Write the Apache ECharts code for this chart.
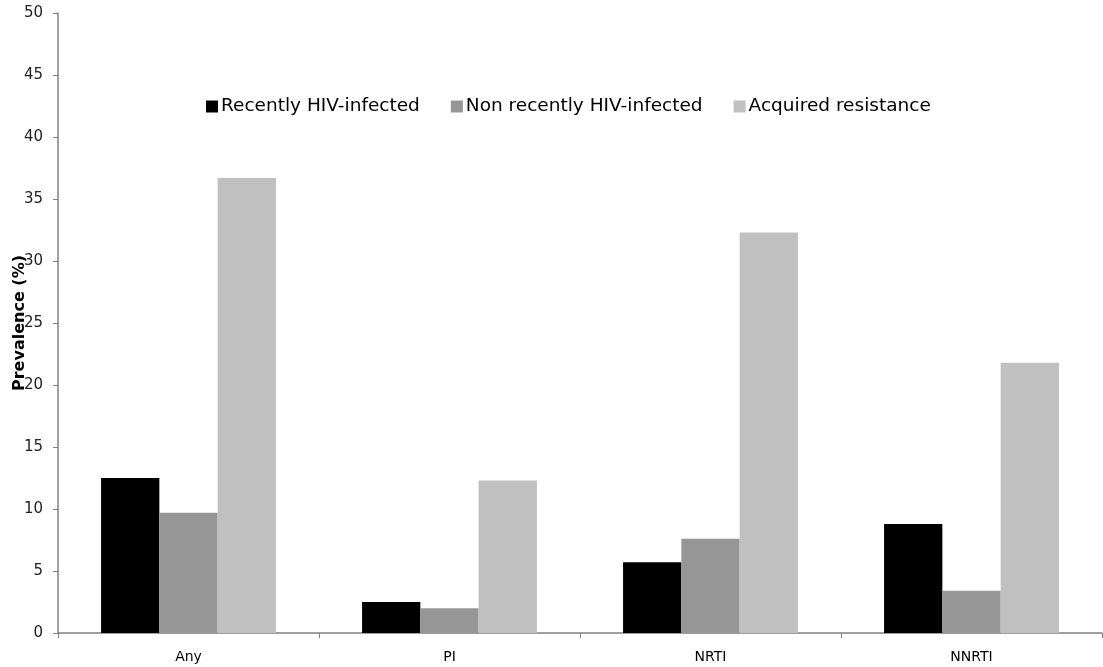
<!DOCTYPE html>
<html>
<head>
<meta charset="utf-8">
<script src="https://cdn.jsdelivr.net/npm/echarts@6/dist/echarts.min.js"></script>
<style>
  html, body { margin: 0; padding: 0; background: #ffffff; }
  #chart { width: 1103px; height: 667px; }
</style>
</head>
<body>
<div id="chart"></div>
<script>
// Drug classes on the x axis
const categories = ['Any', 'PI', 'NRTI', 'NNRTI'];

// Prevalence of resistance (%) per group
const recentlyInfected = [12.5, 2.5, 5.7, 8.8];
const nonRecentlyInfected = [9.7, 2.0, 7.6, 3.4];
const acquiredResistance = [36.7, 12.3, 32.3, 21.8];

const seriesNames = ['Recently HIV-infected', 'Non recently HIV-infected', 'Acquired resistance'];
const seriesColors = ['#000000', '#969696', '#c0c0c0'];

const chart = echarts.init(document.getElementById('chart'), null, { renderer: 'canvas' });

const font = 'DejaVu Sans, Verdana, sans-serif';

chart.setOption({
  animation: false,
  backgroundColor: '#ffffff',
  grid: {
    left: 58, right: 1, top: 13, bottom: 34,
    containLabel: false,
    outerBoundsMode: 'none'
  },
  legend: {
    data: seriesNames,
    left: 201,
    top: 92,
    itemWidth: 12,
    itemHeight: 12,
    itemGap: 31,
    icon: 'rect',
    textStyle: { fontFamily: font, fontSize: 18.5, color: '#000000', padding: [0, 0, 0, -2] }
  },
  xAxis: {
    type: 'category',
    data: categories,
    axisLine: { lineStyle: { color: '#808080', width: 1.5 } },
    axisTick: { show: true, alignWithLabel: false, length: 5, lineStyle: { color: '#808080' } },
    axisLabel: { fontFamily: font, fontSize: 14, color: '#000000', margin: 17 },
    splitLine: { show: false }
  },
  yAxis: {
    type: 'value',
    min: 0,
    max: 50,
    interval: 5,
    name: 'Prevalence (%)',
    nameLocation: 'middle',
    nameRotate: 90,
    nameGap: 30,
    nameMoveOverlap: false,
    nameTextStyle: { fontFamily: font, fontSize: 16, fontWeight: 'bold', color: '#000000' },
    axisLine: { show: true, lineStyle: { color: '#808080', width: 1.5 } },
    axisTick: { show: true, inside: false, length: 5, lineStyle: { color: '#808080' } },
    axisLabel: { fontFamily: font, fontSize: 15, color: '#222222', margin: 15 },
    splitLine: { show: false }
  },
  series: [recentlyInfected, nonRecentlyInfected, acquiredResistance].map((vals, i) => ({
    name: seriesNames[i],
    type: 'bar',
    data: vals,
    barGap: '0%',
    barCategoryGap: '33%',
    itemStyle: { color: seriesColors[i] }
  }))
});
</script>
</body>
</html>
